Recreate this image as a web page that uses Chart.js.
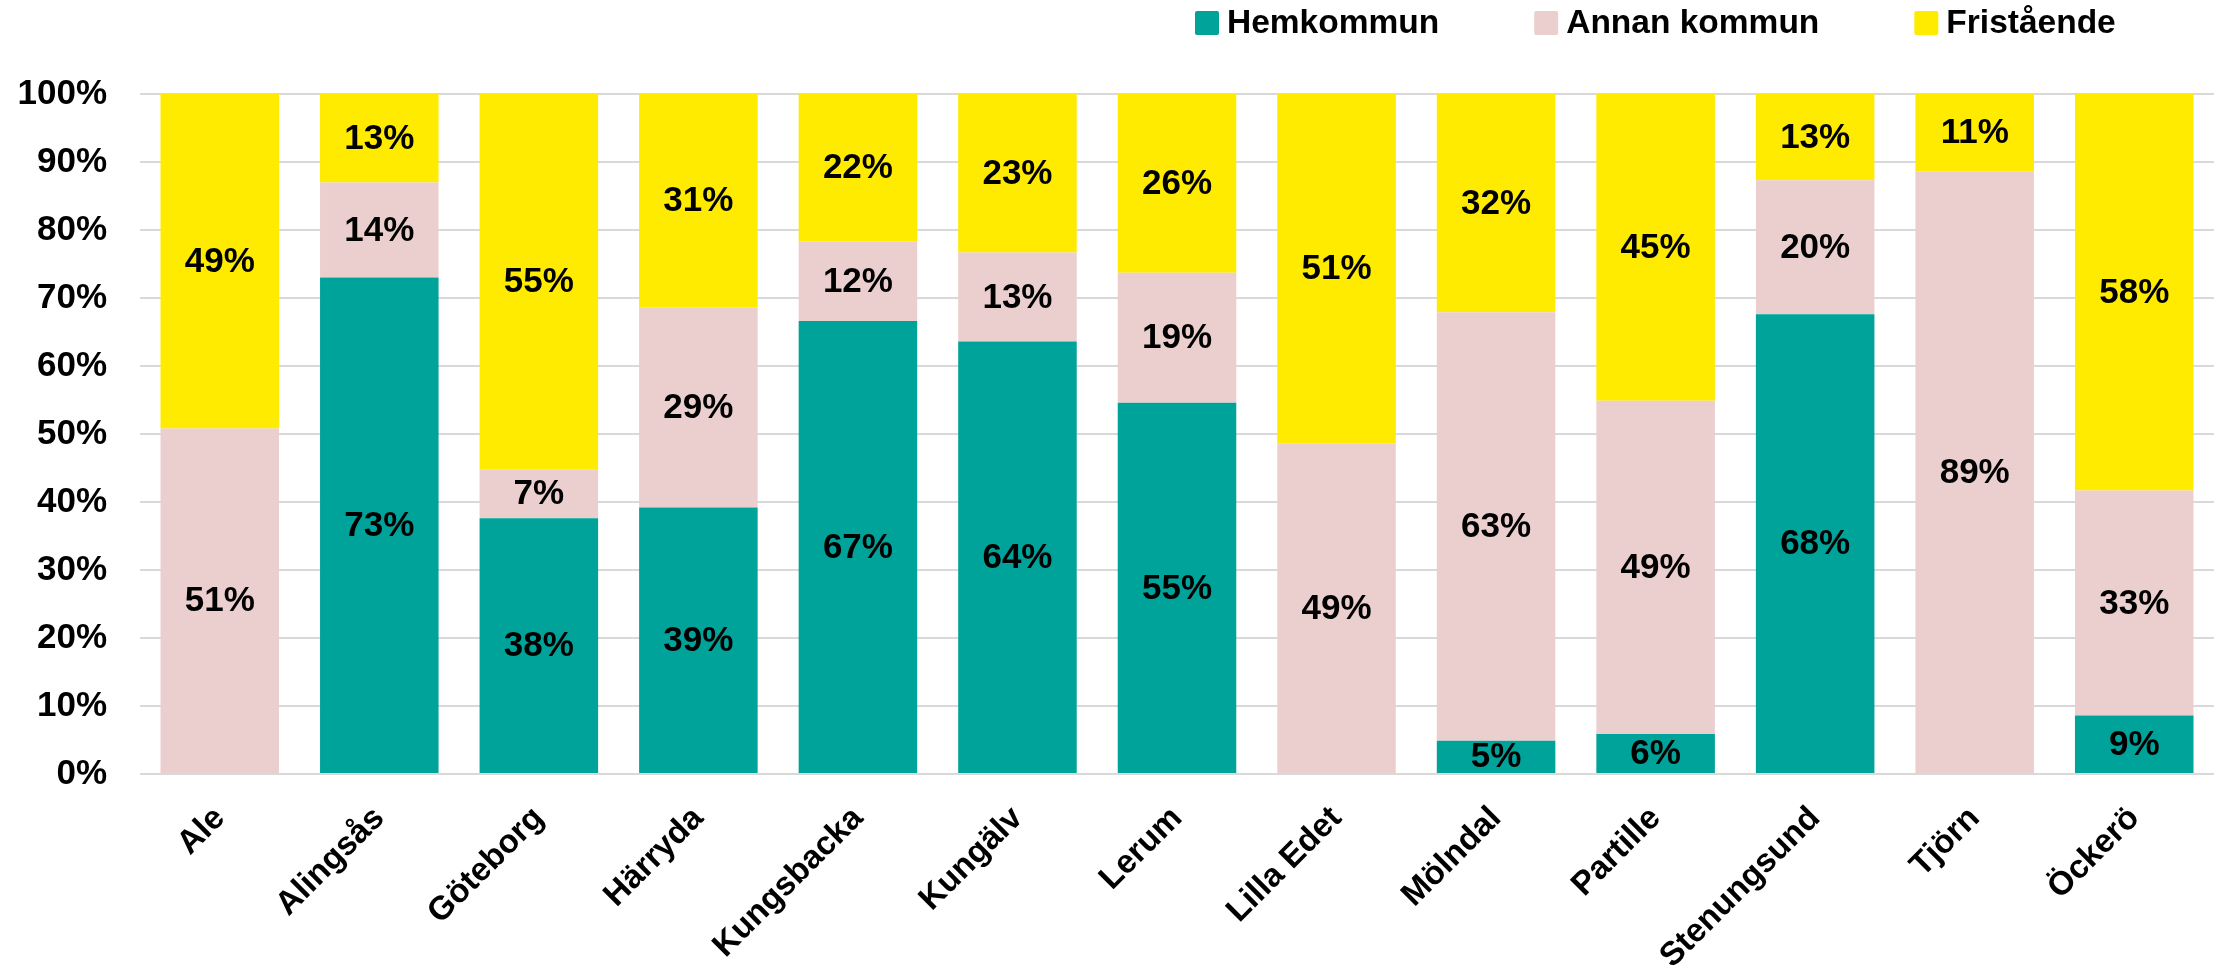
<!DOCTYPE html>
<html>
<head>
<meta charset="utf-8">
<script src="https://cdn.jsdelivr.net/npm/chart.js@4.4.1/dist/chart.umd.min.js"></script>
<style>
  html, body { margin: 0; padding: 0; background: #ffffff; }
  #wrap { width: 2216px; height: 966px; }
</style>
</head>
<body>
<div id="wrap"><canvas id="c" width="2216" height="966"></canvas></div>
<script>
const categories = ['Ale', 'Alingsås', 'Göteborg', 'Härryda', 'Kungsbacka', 'Kungälv', 'Lerum', 'Lilla Edet', 'Mölndal', 'Partille', 'Stenungsund', 'Tjörn', 'Öckerö'];
const seriesNames = ['Hemkommun', 'Annan kommun', 'Fristående'];
const hemkommun   = [0,    73.0, 37.6, 39.2, 66.6, 63.6, 54.6, 0,    4.9,  5.9,  67.6, 0,    8.6];
const annanKommun = [50.8, 14.0, 7.2,  29.4, 11.7, 13.1, 19.1, 48.6, 63.0, 49.0, 19.7, 88.6, 33.1];
const fristaende  = [49.2, 13.0, 55.2, 31.4, 21.7, 23.3, 26.3, 51.4, 32.1, 45.1, 12.7, 11.4, 58.3];
const yTicks = [0, 10, 20, 30, 40, 50, 60, 70, 80, 90, 100];

const colors = ['#00A39A', '#EBCFCF', '#FFEB00'];
const FONT = "'Liberation Sans', Arial, sans-serif";

const segmentLabels = {
  id: 'segmentLabels',
  afterDatasetsDraw(chart) {
    const ctx = chart.ctx;
    ctx.save();
    ctx.font = 'bold 35px ' + FONT;
    ctx.fillStyle = '#000';
    ctx.textAlign = 'center';
    ctx.textBaseline = 'middle';
    chart.data.datasets.forEach((ds, di) => {
      const meta = chart.getDatasetMeta(di);
      meta.data.forEach((bar, i) => {
        const v = ds.data[i];
        if (!v) return;
        const p = bar.getProps(['x', 'y', 'base'], true);
        ctx.fillText(Math.round(v) + '%', p.x, (p.y + p.base) / 2 + 1);
      });
    });
    ctx.restore();
  }
};

const customLegend = {
  id: 'customLegend',
  afterDraw(chart) {
    const ctx = chart.ctx;
    ctx.save();
    ctx.font = 'bold 33.5px ' + FONT;
    ctx.textBaseline = 'middle';
    ctx.textAlign = 'left';
    let x = 1195;
    const top = 11, size = 24;
    chart.data.datasets.forEach((ds) => {
      ctx.fillStyle = ds.backgroundColor;
      ctx.beginPath();
      if (ctx.roundRect) ctx.roundRect(x, top, size, size, 2); else ctx.rect(x, top, size, size);
      ctx.fill();
      ctx.fillStyle = '#000';
      ctx.fillText(ds.label, x + 32, top + size / 2 + 1);
      x += 32 + ctx.measureText(ds.label).width + 95;
    });
    ctx.restore();
  }
};

new Chart(document.getElementById('c'), {
  type: 'bar',
  data: {
    labels: categories,
    datasets: [
      { label: seriesNames[0], data: hemkommun, backgroundColor: colors[0] },
      { label: seriesNames[1], data: annanKommun, backgroundColor: colors[1] },
      { label: seriesNames[2], data: fristaende, backgroundColor: colors[2] }
    ]
  },
  options: {
    responsive: false,
    animation: false,
    layout: { padding: { top: 94, right: 2, left: 0, bottom: 0 } },
    datasets: { bar: { categoryPercentage: 1.0, barPercentage: 0.743 } },
    plugins: {
      legend: { display: false },
      tooltip: { enabled: false }
    },
    scales: {
      x: {
        stacked: true,
        grid: { display: false, drawTicks: false },
        border: { display: false },
        afterFit(scale) { scale.height = 192; },
        ticks: {
          minRotation: 45, maxRotation: 45,
          padding: 25,
          color: '#000',
          font: { family: FONT, size: 33, weight: 'bold' }
        }
      },
      y: {
        stacked: true,
        min: 0, max: 100,
        afterFit(scale) { scale.width = 140; },
        afterBuildTicks(scale) { scale.ticks = yTicks.map(v => ({ value: v })); },
        grid: { color: '#D9D9D9', lineWidth: 2, drawTicks: false },
        border: { display: false },
        ticks: {
          padding: 33,
          color: '#000',
          font: { family: FONT, size: 35, weight: 'bold' },
          callback: (v) => v + '%'
        }
      }
    }
  },
  plugins: [segmentLabels, customLegend]
});
</script>
</body>
</html>
